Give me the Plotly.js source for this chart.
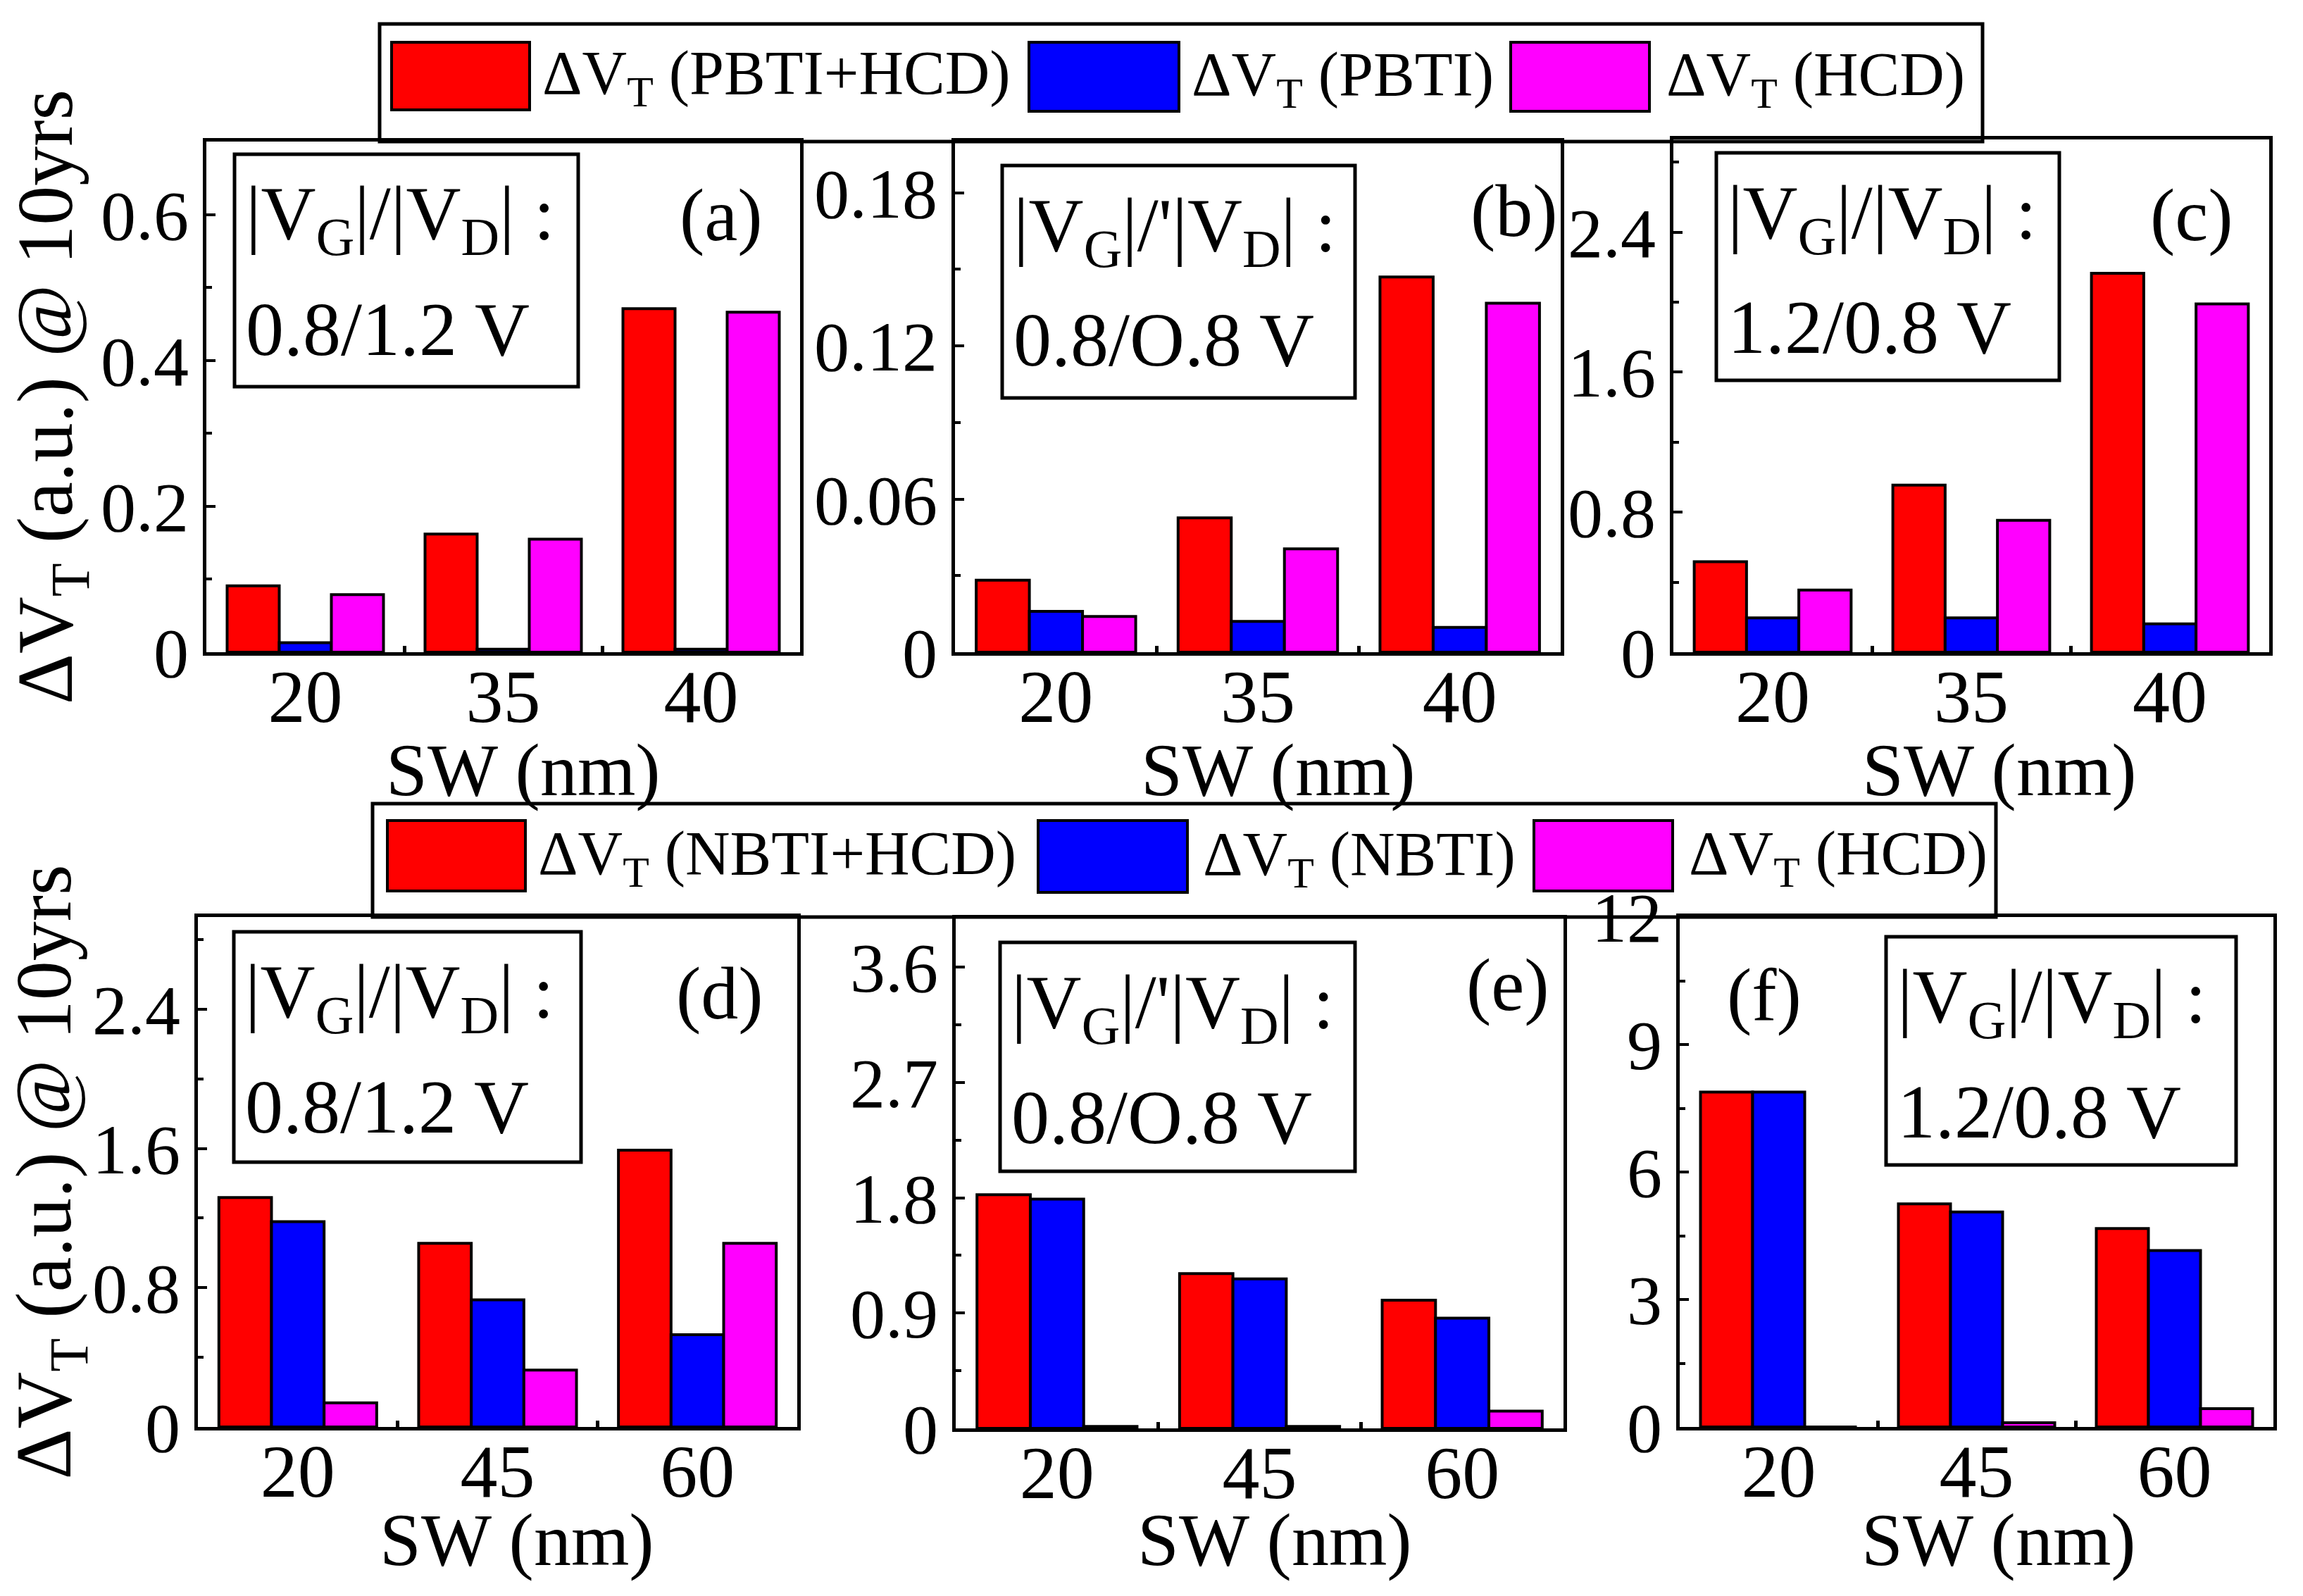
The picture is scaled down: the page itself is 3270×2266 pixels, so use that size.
<!DOCTYPE html>
<html>
<head>
<meta charset="utf-8">
<script src="https://cdn.plot.ly/plotly-3.0.1.min.js"></script>
<style>html,body{margin:0;padding:0;background:#fff;}</style>
</head>
<body>
<div id="chart" style="width:3270px;height:2266px;"></div>
<script>
// ---------- data ----------
const swTop = ['20', '35', '40'];
const swBottom = ['20', '45', '60'];

const aPBTIHCD = [0.091, 0.162, 0.471];
const aPBTI    = [0.013, 0.004, 0.004];
const aHCD     = [0.079, 0.155, 0.466];

const bPBTIHCD = [0.0282, 0.0526, 0.147];
const bPBTI    = [0.016, 0.0121, 0.0097];
const bHCD     = [0.014, 0.0405, 0.1367];

const cPBTIHCD = [0.517, 0.955, 2.165];
const cPBTI    = [0.196, 0.196, 0.162];
const cHCD     = [0.355, 0.754, 1.99];

const dNBTIHCD = [1.318, 1.055, 1.59];
const dNBTI    = [1.18, 0.73, 0.53];
const dHCD     = [0.139, 0.327, 1.055];

const eNBTIHCD = [1.824, 1.208, 1.0];
const eNBTI    = [1.79, 1.167, 0.86];
const eHCD     = [0.015, 0.015, 0.134];

const fNBTIHCD = [7.88, 5.25, 4.67];
const fNBTI    = [7.88, 5.06, 4.15];
const fHCD     = [0.0, 0.1, 0.43];

const topLegend = ['ΔV<sub>T</sub> (PBTI+HCD)', 'ΔV<sub>T</sub> (PBTI)', 'ΔV<sub>T</sub> (HCD)'];
const bottomLegend = ['ΔV<sub>T</sub> (NBTI+HCD)', 'ΔV<sub>T</sub> (NBTI)', 'ΔV<sub>T</sub> (HCD)'];
const panelLabels = ['(a)', '(b)', '(c)', '(d)', '(e)', '(f)'];
const biasText = ['0.8/1.2 V', '0.8/O.8 V', '1.2/0.8 V', '0.8/1.2 V', '0.8/O.8 V', '1.2/0.8 V'];
const biasHead = ['|V<sub>G</sub>|/|V<sub>D</sub>| :', '|V<sub>G</sub>|/\'|V<sub>D</sub>| :', '|V<sub>G</sub>|/|V<sub>D</sub>| :',
                  '|V<sub>G</sub>|/|V<sub>D</sub>| :', '|V<sub>G</sub>|/\'|V<sub>D</sub>| :', '|V<sub>G</sub>|/|V<sub>D</sub>| :'];
const xTitle = 'SW (nm)';
const yTitle = 'ΔV<sub>T</sub> (a.u.) @ 10yrs';
const yRanges = [[0, 0.7], [0, 0.2], [0, 2.93], [0, 2.93], [0, 3.98], [0, 12]];
const yDticks = [0.2, 0.06, 0.8, 0.8, 0.9, 3];
const colors = ['#ff0000', '#0000ff', '#ff00ff'];

// ---------- geometry helpers ----------
const W = 3270, H = 2266;
const px = v => v / W;
const py = v => 1 - v / H;
const FONT = 'Liberation Serif, Times New Roman, serif';

// panel frames in pixels [left, right, top, bottom]
const frames = [
  [293, 1136, 201, 926],
  [1356, 2216, 201, 926],
  [2376, 3222, 198, 926],
  [281, 1132, 1302, 2026],
  [1357, 2220, 1304, 2028],
  [2385, 3228, 1302, 2026]
];
// x-title centres in px
const xTitlePos = [[743, 1094], [1815, 1094], [2839, 1094], [734, 2186], [1810, 2186], [2838, 2186]];

const series = [
  [aPBTIHCD, aPBTI, aHCD],
  [bPBTIHCD, bPBTI, bHCD],
  [cPBTIHCD, cPBTI, cHCD],
  [dNBTIHCD, dNBTI, dHCD],
  [eNBTIHCD, eNBTI, eHCD],
  [fNBTIHCD, fNBTI, fHCD]
];

const traces = [];
const layout = {
  width: W, height: H,
  margin: {l: 0, r: 0, t: 0, b: 0},
  paper_bgcolor: '#fff', plot_bgcolor: '#fff',
  barmode: 'group', bargap: 0.21, bargroupgap: 0,
  showlegend: false,
  font: {family: FONT, color: '#000', size: 100},
  shapes: [], annotations: []
};

for (let i = 0; i < 6; i++) {
  const n = i === 0 ? '' : String(i + 1);
  const cats = i < 3 ? swTop : swBottom;
  const names = i < 3 ? topLegend : bottomLegend;
  for (let s = 0; s < 3; s++) {
    traces.push({
      type: 'bar', x: cats, y: series[i][s],
      xaxis: 'x' + n, yaxis: 'y' + n,
      name: names[s].replace(/<\/?sub>/g, ''),
      marker: {color: colors[s], line: {color: '#000', width: 4}},
      hoverinfo: 'x+y+name'
    });
  }
  const f = frames[i];
  layout['xaxis' + n] = {
    domain: [px(f[0]), px(f[1])],
    anchor: 'y' + n,
    type: 'category',
    range: [-0.5, 2.5],
    showline: true, mirror: true, linecolor: '#000', linewidth: 5,
    showgrid: false, zeroline: false,
    ticks: 'inside', tickson: 'boundaries', ticklen: 9, tickwidth: 5, tickcolor: '#000',
    tickfont: {family: FONT, size: 106, color: '#000'},
    ticklabelstandoff: -33,
    fixedrange: true
  };
  layout['yaxis' + n] = {
    domain: [py(f[3]), py(f[2])],
    anchor: 'x' + n,
    range: yRanges[i],
    dtick: yDticks[i], tick0: 0,
    showline: true, mirror: true, linecolor: '#000', linewidth: 5,
    showgrid: false, zeroline: false,
    ticks: 'inside', ticklen: 13, tickwidth: 4, tickcolor: '#000',
    minor: {ticks: 'inside', ticklen: 8, tickwidth: 4, tickcolor: '#000', dtick: yDticks[i] / 2, showgrid: false},
    tickfont: {family: FONT, size: 100, color: '#000'},
    ticklabelstandoff: 0,
    fixedrange: true
  };
  if (i === 0 || i === 3) {
    layout['yaxis' + n].title = {text: yTitle, font: {family: FONT, size: 112, color: '#000'}, standoff: 2};
  }
  layout.annotations.push({xref: 'paper', yref: 'paper', x: px(xTitlePos[i][0]), y: py(xTitlePos[i][1]),
    xanchor: 'center', yanchor: 'middle', showarrow: false, text: xTitle,
    font: {family: FONT, size: 106, color: '#000'}});
}

// ---------- inset bias boxes ----------
// [left, right, top, bottom] in px
const boxes = [
  [333, 821, 219, 549],
  [1423, 1924, 235, 565],
  [2437, 2924, 217, 540],
  [332, 825, 1323, 1650],
  [1420, 1924, 1338, 1663],
  [2678, 3175, 1330, 1654]
];
for (let i = 0; i < 6; i++) {
  const b = boxes[i];
  layout.shapes.push({type: 'rect', xref: 'paper', yref: 'paper',
    x0: px(b[0]), x1: px(b[1]), y0: py(b[3]), y1: py(b[2]),
    line: {color: '#000', width: 5}, fillcolor: 'rgba(0,0,0,0)', layer: 'above'});
  layout.annotations.push({xref: 'paper', yref: 'paper', x: px(b[0] + 14), y: py(b[2] + 92),
    xanchor: 'left', yanchor: 'middle', showarrow: false, text: biasHead[i],
    font: {family: FONT, size: 108, color: '#000'}});
  layout.annotations.push({xref: 'paper', yref: 'paper', x: px(b[0] + 14), y: py(b[2] + 248),
    xanchor: 'left', yanchor: 'middle', showarrow: false, text: biasText[i],
    font: {family: FONT, size: 108, color: '#000'}});
}

// ---------- panel labels ----------
const labelPos = [[1024, 305], [2150, 300], [3112, 305], [1022, 1410], [2141, 1398], [2505, 1412]];
for (let i = 0; i < 6; i++) {
  layout.annotations.push({xref: 'paper', yref: 'paper', x: px(labelPos[i][0]), y: py(labelPos[i][1]),
    xanchor: 'center', yanchor: 'middle', showarrow: false, text: panelLabels[i],
    font: {family: FONT, size: 106, color: '#000'}});
}

// ---------- legend boxes (drawn as shapes + text) ----------
function legendRow(box, sw, txt, labels) {
  layout.shapes.push({type: 'rect', xref: 'paper', yref: 'paper',
    x0: px(box[0]), x1: px(box[1]), y0: py(box[3]), y1: py(box[2]),
    line: {color: '#000', width: 5}, fillcolor: 'rgba(0,0,0,0)', layer: 'below'});
  for (let s = 0; s < 3; s++) {
    layout.shapes.push({type: 'rect', xref: 'paper', yref: 'paper',
      x0: px(sw[s][0]), x1: px(sw[s][1]), y0: py(sw[s][3]), y1: py(sw[s][2]),
      line: {color: '#000', width: 4}, fillcolor: colors[s], layer: 'above'});
    layout.annotations.push({xref: 'paper', yref: 'paper', x: px(txt[s]), y: py((sw[s][2] + sw[s][3]) / 2 + 2),
      xanchor: 'left', yanchor: 'middle', showarrow: false, text: labels[s],
      font: {family: FONT, size: 88, color: '#000'}});
  }
}
legendRow([539, 2815, 34, 201],
  [[556, 752, 60, 156], [1461, 1674, 60, 158], [2145, 2342, 60, 158]],
  [768, 1690, 2364], topLegend);
legendRow([529, 2834, 1141, 1302],
  [[550, 746, 1165, 1265], [1474, 1686, 1165, 1267], [2178, 2375, 1165, 1265]],
  [762, 1706, 2396], bottomLegend);

Plotly.newPlot('chart', traces, layout, {staticPlot: true, displayModeBar: false});
</script>
</body>
</html>
